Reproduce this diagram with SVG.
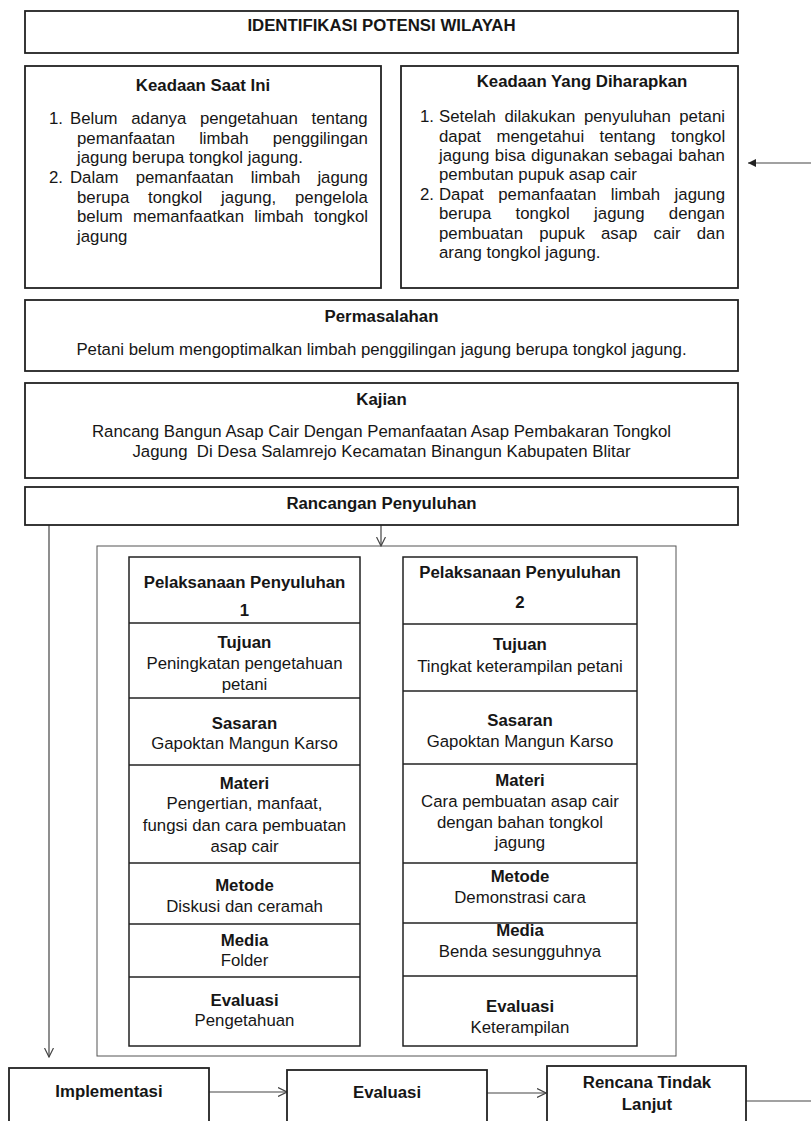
<svg xmlns="http://www.w3.org/2000/svg" width="811" height="1121" viewBox="0 0 811 1121">
<style>
.box{fill:#fff;stroke:#222;stroke-width:1.8}
.cell{fill:none;stroke:#222;stroke-width:1.5}
.cont{fill:none;stroke:#555;stroke-width:1}
.conn{fill:none;stroke:#444;stroke-width:1.2}
text{font-family:"Liberation Sans",Arial,Helvetica,sans-serif;font-size:16.8px;fill:#161616}
.b{font-weight:bold}
.c{text-anchor:middle}
</style>
<defs>
<marker id="open" viewBox="0 0 10 10" refX="9.5" refY="5" markerWidth="10" markerHeight="10" markerUnits="userSpaceOnUse" orient="auto">
<path d="M0.5,0.5 L9.5,5 L0.5,9.5" fill="none" stroke="#444" stroke-width="1.2"/>
</marker>
<marker id="solid" viewBox="0 0 10 10" refX="10" refY="5" markerWidth="10" markerHeight="8" markerUnits="userSpaceOnUse" orient="auto">
<path d="M0,0 L10,5 L0,10 Z" fill="#222"/>
</marker>
</defs>
<rect width="811" height="1121" fill="#fff"/>

<g id="connectors">
<line class="conn" x1="811" y1="163" x2="748" y2="163" marker-end="url(#solid)"/>
<line class="conn" x1="381" y1="525" x2="381" y2="546" marker-end="url(#open)"/>
<line class="conn" x1="49" y1="525" x2="49" y2="1057" marker-end="url(#open)"/>
<line class="conn" x1="209" y1="1092" x2="287" y2="1092" marker-end="url(#open)"/>
<line class="conn" x1="487" y1="1093" x2="546" y2="1093" marker-end="url(#open)"/>
<line class="conn" x1="746" y1="1101" x2="811" y2="1101"/>
</g>

<g id="identifikasi">
<rect class="box" x="25" y="11" width="713" height="42"/>
<text class="b c" x="381.5" y="31">IDENTIFIKASI POTENSI WILAYAH</text>
</g>

<g id="keadaan-saat-ini">
<rect class="box" x="25" y="66" width="356" height="222"/>
<text class="b c" x="203" y="91">Keadaan Saat Ini</text>
<text x="49" y="124">1.</text>
<text x="70" y="124" word-spacing="9">Belum adanya pengetahuan tentang</text>
<text x="77" y="143.5" word-spacing="19.5">pemanfaatan limbah penggilingan</text>
<text x="77" y="163">jagung berupa tongkol jagung.</text>
<text x="49" y="183">2.</text>
<text x="70" y="183" word-spacing="12.5">Dalam pemanfaatan limbah jagung</text>
<text x="77" y="202.5" word-spacing="14.2">berupa tongkol jagung, pengelola</text>
<text x="77" y="222" word-spacing="5.6">belum memanfaatkan limbah tongkol</text>
<text x="77" y="241.5">jagung</text>
</g>

<g id="keadaan-diharapkan">
<rect class="box" x="401" y="66" width="337" height="222"/>
<text class="b c" x="582" y="87">Keadaan Yang Diharapkan</text>
<text x="420" y="122">1.</text>
<text x="439" y="122" word-spacing="3.9">Setelah dilakukan penyuluhan petani</text>
<text x="439" y="141.5" word-spacing="10.8">dapat mengetahui tentang tongkol</text>
<text x="439" y="161" word-spacing="0.8">jagung bisa digunakan sebagai bahan</text>
<text x="439" y="180">pembutan pupuk asap cair</text>
<text x="420" y="199.5">2.</text>
<text x="439" y="199.5" word-spacing="9.8">Dapat pemanfaatan limbah jagung</text>
<text x="439" y="219" word-spacing="19.7">berupa tongkol jagung dengan</text>
<text x="439" y="238.5" word-spacing="11.5">pembuatan pupuk asap cair dan</text>
<text x="439" y="258">arang tongkol jagung.</text>
</g>

<g id="permasalahan">
<rect class="box" x="25" y="300" width="713" height="71"/>
<text class="b c" x="381.5" y="322">Permasalahan</text>
<text class="c" x="381.5" y="355">Petani belum mengoptimalkan limbah penggilingan jagung berupa tongkol jagung.</text>
</g>

<g id="kajian">
<rect class="box" x="25" y="383" width="713" height="95"/>
<text class="b c" x="381.5" y="405">Kajian</text>
<text class="c" x="381.5" y="437">Rancang Bangun Asap Cair Dengan Pemanfaatan Asap Pembakaran Tongkol</text>
<text class="c" x="381.5" y="457" style="white-space:pre">Jagung  Di Desa Salamrejo Kecamatan Binangun Kabupaten Blitar</text>
</g>

<g id="rancangan-penyuluhan">
<rect class="box" x="25" y="487" width="713" height="38"/>
<text class="b c" x="381.5" y="508.5">Rancangan Penyuluhan</text>
</g>

<g id="pelaksanaan-container">
<rect class="cont" x="97" y="546" width="579" height="510"/>
</g>

<g id="pelaksanaan-1">
<rect class="cell" x="129" y="557" width="231" height="489"/>
<line class="cell" x1="129" y1="623" x2="360" y2="623"/>
<line class="cell" x1="129" y1="698" x2="360" y2="698"/>
<line class="cell" x1="129" y1="765" x2="360" y2="765"/>
<line class="cell" x1="129" y1="863" x2="360" y2="863"/>
<line class="cell" x1="129" y1="924" x2="360" y2="924"/>
<line class="cell" x1="129" y1="977" x2="360" y2="977"/>
<text class="b c" x="244.5" y="588">Pelaksanaan Penyuluhan</text>
<text class="b c" x="244.5" y="616">1</text>
<text class="b c" x="244.5" y="648">Tujuan</text>
<text class="c" x="244.5" y="668.5">Peningkatan pengetahuan</text>
<text class="c" x="244.5" y="690">petani</text>
<text class="b c" x="244.5" y="729">Sasaran</text>
<text class="c" x="244.5" y="749">Gapoktan Mangun Karso</text>
<text class="b c" x="244.5" y="789">Materi</text>
<text class="c" x="244.5" y="809">Pengertian, manfaat,</text>
<text class="c" x="244.5" y="831">fungsi dan cara pembuatan</text>
<text class="c" x="244.5" y="852">asap cair</text>
<text class="b c" x="244.5" y="891">Metode</text>
<text class="c" x="244.5" y="912">Diskusi dan ceramah</text>
<text class="b c" x="244.5" y="946">Media</text>
<text class="c" x="244.5" y="966">Folder</text>
<text class="b c" x="244.5" y="1006">Evaluasi</text>
<text class="c" x="244.5" y="1026">Pengetahuan</text>
</g>

<g id="pelaksanaan-2">
<rect class="cell" x="403" y="557" width="234" height="489"/>
<line class="cell" x1="403" y1="624" x2="637" y2="624"/>
<line class="cell" x1="403" y1="691" x2="637" y2="691"/>
<line class="cell" x1="403" y1="764" x2="637" y2="764"/>
<line class="cell" x1="403" y1="863" x2="637" y2="863"/>
<line class="cell" x1="403" y1="923" x2="637" y2="923"/>
<line class="cell" x1="403" y1="976" x2="637" y2="976"/>
<text class="b c" x="520" y="578">Pelaksanaan Penyuluhan</text>
<text class="b c" x="520" y="608">2</text>
<text class="b c" x="520" y="650">Tujuan</text>
<text class="c" x="520" y="672">Tingkat keterampilan petani</text>
<text class="b c" x="520" y="726">Sasaran</text>
<text class="c" x="520" y="747">Gapoktan Mangun Karso</text>
<text class="b c" x="520" y="786">Materi</text>
<text class="c" x="520" y="807">Cara pembuatan asap cair</text>
<text class="c" x="520" y="828">dengan bahan tongkol</text>
<text class="c" x="520" y="848">jagung</text>
<text class="b c" x="520" y="882">Metode</text>
<text class="c" x="520" y="903">Demonstrasi cara</text>
<text class="b c" x="520" y="936">Media</text>
<text class="c" x="520" y="957">Benda sesungguhnya</text>
<text class="b c" x="520" y="1012">Evaluasi</text>
<text class="c" x="520" y="1033">Keterampilan</text>
</g>

<g id="implementasi">
<rect class="box" x="9" y="1068" width="200" height="70"/>
<text class="b c" x="109" y="1097">Implementasi</text>
</g>

<g id="evaluasi">
<rect class="box" x="287" y="1070" width="200" height="70"/>
<text class="b c" x="387" y="1098">Evaluasi</text>
</g>

<g id="rencana-tindak-lanjut">
<rect class="box" x="547" y="1066" width="199" height="70"/>
<text class="b c" x="647" y="1088">Rencana Tindak</text>
<text class="b c" x="647" y="1110">Lanjut</text>
</g>
</svg>
